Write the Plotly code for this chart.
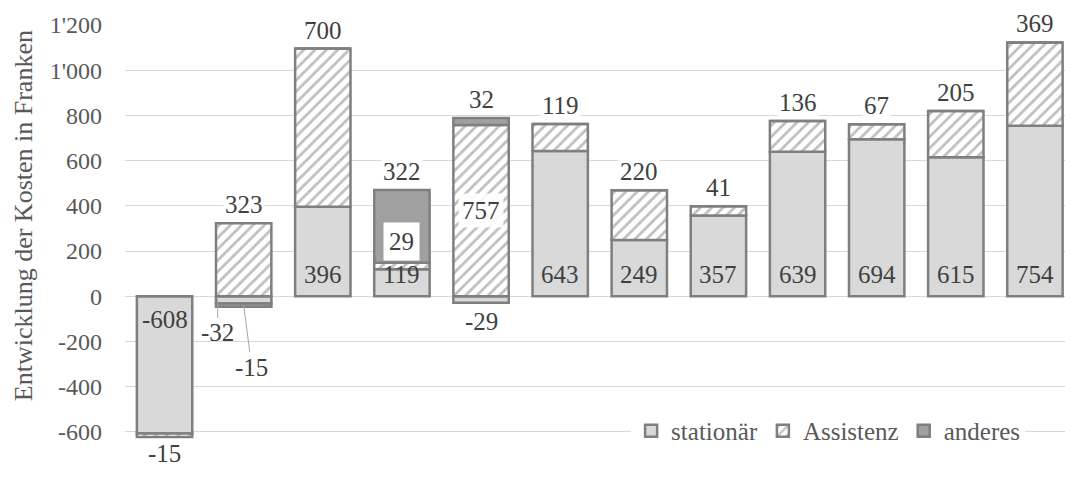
import plotly.graph_objects as go

# Kostenentwicklung je Gruppe (in Franken), gestapelt nach Kostenart
groups = list(range(12))
stationaer = [-608, -32, 396, 119, -29, 643, 249, 357, 639, 694, 615, 754]
assistenz = [-15, 323, 700, 29, 757, 119, 220, 41, 136, 67, 205, 369]
anderes = [0, -15, 0, 322, 32, 0, 0, 0, 0, 0, 0, 0]

y_tick_vals = [-800, -600, -400, -200, 0, 200, 400, 600, 800, 1000, 1200]
y_tick_text = ["-800", "-600", "-400", "-200", "0", "200", "400", "600", "800", "1'000", "1'200"]

FONT = "Liberation Serif"
LABEL_COLOR = "#404040"
AXIS_COLOR = "#595959"
EDGE = "#7f7f7f"
LABEL_SIZE = 25

fig = go.Figure()
fig.add_trace(go.Bar(
    x=groups, y=stationaer, name="stationär",
    marker=dict(color="#d9d9d9", line=dict(color=EDGE, width=2.5)),
))
fig.add_trace(go.Bar(
    x=groups, y=assistenz, name="Assistenz",
    marker=dict(color="white", line=dict(color=EDGE, width=2.5),
                pattern=dict(shape="/", fgcolor=EDGE, bgcolor="white", size=8, solidity=0.35)),
))
fig.add_trace(go.Bar(
    x=groups, y=anderes, name="anderes",
    marker=dict(color="#a0a0a0", line=dict(color=EDGE, width=2.5)),
))

annotations = []


def label(x, y, value, anchor, yshift=0, bg=None, **kw):
    d = dict(x=x, y=y, text=str(value), showarrow=False, yanchor=anchor, yshift=yshift,
             font=dict(family=FONT, size=LABEL_SIZE, color=LABEL_COLOR))
    if bg:
        d.update(bgcolor=bg, borderpad=1)
    d.update(kw)
    annotations.append(d)


for i in groups:
    values = [stationaer[i], assistenz[i], anderes[i]]
    top = sum(v for v in values if v > 0)
    bottom = sum(v for v in values if v < 0)
    s, a, o = values

    # stationär
    if s >= 100:
        label(i, 0, s, "bottom", yshift=6)
    elif s <= -100:
        label(i, 0, s, "top", yshift=-8)
    elif s < 0 and o < 0:
        # kleiner Wert mit Hinweislinie
        annotations.append(dict(x=i, y=s / 2, text=str(s), xshift=-26, ax=0, ay=33,
                                showarrow=True, arrowhead=0, arrowwidth=1, arrowcolor="#a6a6a6",
                                font=dict(family=FONT, size=LABEL_SIZE, color=LABEL_COLOR)))
    elif s < 0:
        label(i, bottom, s, "top", yshift=-3, bg="white")

    # Assistenz
    if a < 0:
        label(i, bottom, a, "top", yshift=-1)
    elif o > 100:
        label(i, s + a, a, "bottom", yshift=2, bg="white", borderpad=5)
    elif o > 0:
        label(i, a / 2, a, "middle", bg="rgba(255,255,255,0.92)", borderpad=3)
    else:
        label(i, top, a, "bottom", yshift=3, bg="white")

    # anderes
    if o < 0:
        annotations.append(dict(x=i, y=s + o / 2, text=str(o), ax=8, ay=62,
                                showarrow=True, arrowhead=0, arrowwidth=1, arrowcolor="#a6a6a6",
                                font=dict(family=FONT, size=LABEL_SIZE, color=LABEL_COLOR)))
    elif o > 0:
        label(i, top, o, "bottom", yshift=3, bg="white")

# Achsentitel
annotations.append(dict(
    text="Entwicklung der Kosten in Franken", xref="paper", yref="paper",
    x=-0.1085, y=0.577, textangle=-90, showarrow=False, xanchor="center", yanchor="middle",
    font=dict(family=FONT, size=26, color=AXIS_COLOR),
))

fig.update_layout(
    width=1065, height=486,
    margin=dict(l=125, r=0, t=25, b=9),
    barmode="relative",
    bargap=0.30,
    paper_bgcolor="white",
    plot_bgcolor="white",
    showlegend=True,
    font=dict(family=FONT),
    legend=dict(
        orientation="h", x=0.748, xanchor="center", y=0.102, yanchor="middle",
        bgcolor="white", itemwidth=30,
        font=dict(family=FONT, size=25, color=AXIS_COLOR),
    ),
    xaxis=dict(range=[-0.5, 11.38], showticklabels=False, showgrid=False,
               zeroline=False, showline=False, ticks=""),
    yaxis=dict(range=[-800, 1200], tickvals=y_tick_vals, ticktext=y_tick_text,
               showgrid=True, gridcolor="#d9d9d9", gridwidth=1, zeroline=False,
               showline=False, ticks="", ticklabelstandoff=22,
               tickfont=dict(family=FONT, size=24, color=AXIS_COLOR)),
    annotations=annotations,
)

fig.write_html("out.html")
